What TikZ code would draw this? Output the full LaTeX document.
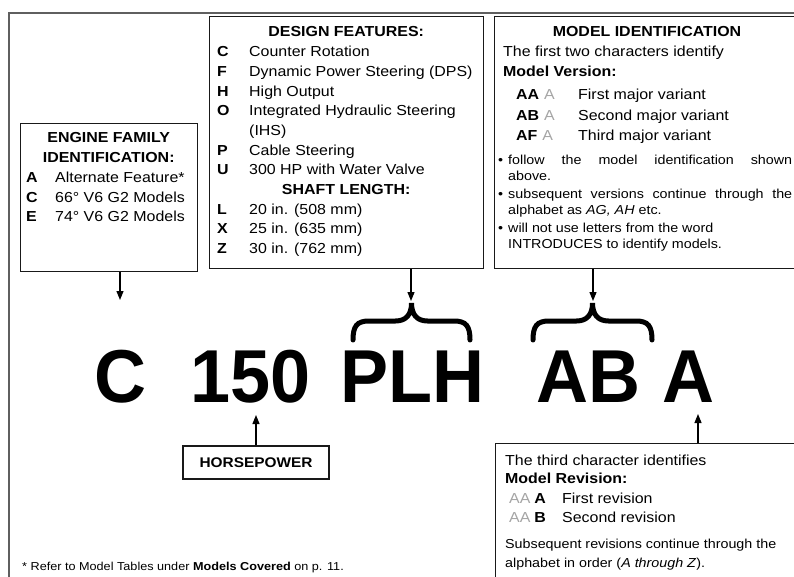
\documentclass[tikz,border=0pt]{standalone}
\usepackage{fontspec}
\setmainfont[FakeStretch=1.1]{Liberation Sans}
\newfontfamily\bigfont[FakeStretch=0.96]{Liberation Sans}
\usetikzlibrary{arrows.meta,calc}
\definecolor{framegray}{RGB}{95,95,95}
\definecolor{lightcode}{RGB}{165,165,165}

\tikzset{
  box/.style={draw=black!90, line width=1.2pt, anchor=north west},
  arr/.style={line width=1.2pt, -{Triangle[width=7pt,length=9pt]}},
  brc/.style={line width=5pt, line cap=round},
  txt/.style={anchor=base west},
  big/.style={anchor=base west, font=\bigfont\bfseries\fontsize{75}{80}\selectfont},
}

\begin{document}
\begin{tikzpicture}[x=1pt, y=-1pt, every node/.style={inner sep=0pt, font=\fontsize{14.5}{19.7}\selectfont}]
\useasboundingbox (0,0) rectangle (794,577);
\draw[framegray, line width=2pt] (9,577) -- (9,13) -- (794,13);

% the five boxes
\node[box, minimum width=177pt, minimum height=148pt] (engine) at (20,123) {};
\node[box, minimum width=274pt, minimum height=252pt] (design) at (209,16) {};
\node[box, minimum width=312pt, minimum height=252pt] (model) at (494,16) {};
\node[box, anchor=center, minimum width=146pt, minimum height=33pt,
      font=\bfseries\fontsize{14}{16}\selectfont] (hp) at (256,462.5) {HORSEPOWER};
\node[box, minimum width=310pt, minimum height=150pt] (revision) at (495,443) {};

% engine family
\node[txt] (enginetxt) at (26,143) {\begin{tabular}[t]{@{}p{29pt}@{}p{136pt}@{}}
\multicolumn{2}{@{}c@{}}{\bfseries ENGINE FAMILY}\\
\multicolumn{2}{@{}c@{}}{\bfseries IDENTIFICATION:}\\
\textbf{A} & Alternate Feature*\\
\textbf{C} & 66° V6 G2 Models\\
\textbf{E} & 74° V6 G2 Models
\end{tabular}};

% design features and shaft length
\node[txt] (designtxt) at (217,37) {\begin{tabular}[t]{@{}p{32pt}@{}p{226pt}@{}}
\multicolumn{2}{@{}c@{}}{\bfseries DESIGN FEATURES:}\\
\textbf{C} & Counter Rotation\\
\textbf{F} & Dynamic Power Steering (DPS)\\
\textbf{H} & High Output\\
\textbf{O} & Integrated Hydraulic Steering\\
 & (IHS)\\
\textbf{P} & Cable Steering\\
\textbf{U} & 300 HP with Water Valve\\
\multicolumn{2}{@{}c@{}}{\bfseries SHAFT LENGTH:}\\
\textbf{L} & 20 in. (508 mm)\\
\textbf{X} & 25 in. (635 mm)\\
\textbf{Z} & 30 in. (762 mm)
\end{tabular}};

% model identification
\node[anchor=base, font=\bfseries\fontsize{14.5}{19.7}\selectfont] (modeltitle) at (647,37) {MODEL IDENTIFICATION};
\node[txt] (modelintro) at (503,57) {\begin{tabular}[t]{@{}l@{}}
The first two characters identify\\
\textbf{Model Version:}
\end{tabular}};
\node[txt] (modelrows) at (516,100) {\begin{tabular}[t]{@{}p{62pt}@{}l@{}}
\textbf{AA}\hspace{5pt}\textcolor{lightcode}{A} & First major variant\\[0.8pt]
\textbf{AB}\hspace{5pt}\textcolor{lightcode}{A} & Second major variant\\[0.8pt]
\textbf{AF}\hspace{5pt}\textcolor{lightcode}{A} & Third major variant
\end{tabular}};
\node[txt, font=\fontsize{13}{16}\selectfont] (modelnotes) at (498,165) {\begin{tabular}[t]{@{}p{10pt}@{}p{284pt}@{}}
\textbullet & follow the model identification shown\linebreak above.\\[2pt]
\textbullet & subsequent versions continue through the\linebreak alphabet as \textit{AG, AH} etc.\\[2pt]
\textbullet & will not use letters from the word\newline INTRODUCES to identify models.
\end{tabular}};

% model revision
\node[txt] (revintro) at (505,465) {\begin{tabular}[t]{@{}l@{}}
The third character identifies\\[-1.7pt]
\textbf{Model Revision:}
\end{tabular}};
\node[txt] (revrows) at (509,503) {\begin{tabular}[t]{@{}p{53pt}@{}l@{}}
\textcolor{lightcode}{AA}\hspace{4pt}\textbf{A} & First revision\\
\textcolor{lightcode}{AA}\hspace{4pt}\textbf{B} & Second revision
\end{tabular}};
\node[txt, font=\fontsize{13}{19}\selectfont] (revnote) at (505,548) {\begin{tabular}[t]{@{}l@{}}
Subsequent revisions continue through the\\
alphabet in order (\textit{A through Z}).
\end{tabular}};

% the model number
\node[big] (bigC) at (94,402) {C};
\node[big] (bighp) at (190,402) {150};
\node[big] (bigdesign) at (340,402) {PLH};
\node[big] (bigversion) at (536,402) {AB};
\node[big] (bigrev) at (662,402) {A};

\foreach \xl/\xr in {353/470, 533/652}{%
  \pgfmathsetmacro\xc{(\xl+\xr)/2}
  \draw[brc] (\xl,340) .. controls (\xl,326) and (\xl+4,321) .. (\xl+16,321) -- (\xc-16,321)
    .. controls (\xc-5,321) and (\xc,314) .. (\xc,303)
    .. controls (\xc,314) and (\xc+5,321) .. (\xc+16,321) -- (\xr-16,321)
    .. controls (\xr-4,321) and (\xr,326) .. (\xr,340);}

\coordinate (ctip) at (120,300);
\coordinate (dtip) at (411,301);
\coordinate (vtip) at (593,301);
\coordinate (hptip) at (256,415);
\coordinate (rtip) at (698,414);
\draw[arr] (ctip |- engine.south) -- (ctip);
\draw[arr] (dtip |- design.south) -- (dtip);
\draw[arr] (vtip |- model.south) -- (vtip);
\draw[arr] (hp.north) -- (hptip);
\draw[arr] (rtip |- revision.north) -- (rtip);

\node[txt, font=\fontsize{11.5}{14}\selectfont] (footnote) at (22,570) {* Refer to Model Tables under \textbf{Models Covered} on p. 11.};
\end{tikzpicture}
\end{document}
